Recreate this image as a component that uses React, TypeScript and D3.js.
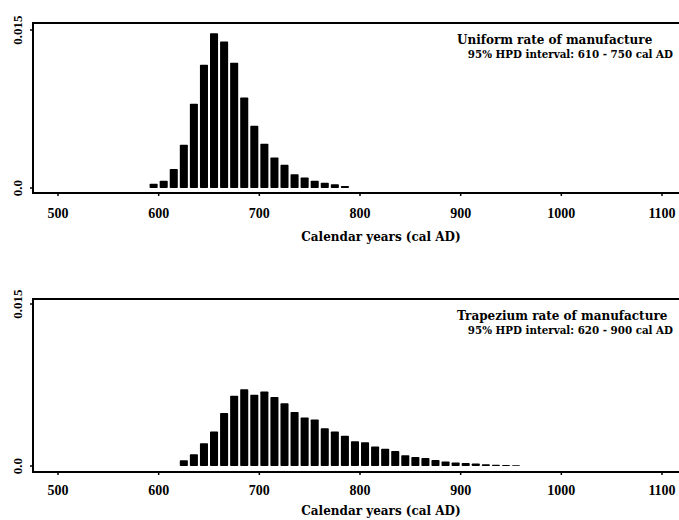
import React from "react";
import * as d3 from "d3";

// bin centres (cal AD) and posterior densities
const uniformYears = [595, 605, 615, 625, 635, 645, 655, 665, 675, 685, 695, 705, 715, 725, 735, 745, 755, 765, 775, 785];
const uniformValues = [0.0004, 0.0007, 0.0018, 0.0041, 0.008, 0.0117, 0.0147, 0.0139, 0.0119, 0.0086, 0.0059, 0.0042, 0.0029, 0.0022, 0.0013, 0.001, 0.0007, 0.0005, 0.00035, 0.0002];

const trapYears = [625, 635, 645, 655, 665, 675, 685, 695, 705, 715, 725, 735, 745, 755, 765, 775, 785, 795, 805, 815, 825, 835, 845, 855, 865, 875, 885, 895, 905, 915, 925, 935, 945, 955];
const trapValues = [0.00053, 0.00108, 0.0021, 0.0032, 0.0049, 0.0065, 0.0071, 0.0066, 0.0069, 0.0064, 0.0058, 0.005, 0.0045, 0.0043, 0.0035, 0.0032, 0.0028, 0.0023, 0.0022, 0.0018, 0.0016, 0.0014, 0.001, 0.00084, 0.00074, 0.00056, 0.00042, 0.00032, 0.00028, 0.00023, 0.00016, 0.00012, 0.00009, 0.00006];

const xTicks = [500, 600, 700, 800, 900, 1000, 1100];
const yTicks = [0, 0.015];
const yTickLabels = ["0.0", "0.015"];
const xTitle = "Calendar years (cal AD)";

const panels = [
  { years: uniformYears, values: uniformValues, title: "Uniform rate of manufacture", hpd: "95% HPD interval: 610 - 750 cal AD", top: 23, bottom: 193, y0: 188, y1: 30, tickY: 218, titleY: 241 },
  { years: trapYears, values: trapValues, title: "Trapezium rate of manufacture", hpd: "95% HPD interval: 620 - 900 cal AD", top: 299, bottom: 472, y0: 466, y1: 304, tickY: 495, titleY: 515 },
];

const font = "'Liberation Serif', 'DejaVu Serif', serif";
const wide = "'DejaVu Serif', serif";

const x = d3.scaleLinear().domain([500, 1100]).range([58, 662]);

const Panel = ({ p }: { p: (typeof panels)[number] }) => {
  const y = d3.scaleLinear().domain([0, 0.015]).range([p.y0, p.y1]);
  const left = 33;
  const right = 690;
  return (
    <g>
      {p.years.map((yr, i) => (
        <rect
          key={yr}
          x={x(yr - 4)}
          width={x(yr + 4) - x(yr - 4)}
          y={y(p.values[i])}
          height={y(0) - y(p.values[i])}
          fill="#000"
          rx={0.8}
        />
      ))}
      {/* frame: left, top, bottom (right edge runs off the page) */}
      <path d={`M${right},${p.top}H${left}V${p.bottom}H${right}`} fill="none" stroke="#000" strokeWidth={2} />
      {yTicks.map((t, i) => (
        <g key={t}>
          <line x1={left - 3} x2={left} y1={y(t)} y2={y(t)} stroke="#000" strokeWidth={1.5} />
          <text
            transform={`translate(22,${y(t)}) rotate(-90)`}
            textAnchor="middle"
            fontSize={13}
            fontWeight="bold"
            fontFamily={font}
          >
            {yTickLabels[i]}
          </text>
        </g>
      ))}
      {xTicks.map((t) => (
        <g key={t}>
          <line x1={x(t)} x2={x(t)} y1={p.bottom} y2={p.bottom + 3} stroke="#000" strokeWidth={1.5} />
          <text x={x(t)} y={p.tickY} textAnchor="middle" fontSize={14} fontWeight="bold" fontFamily={font}>
            {t}
          </text>
        </g>
      ))}
      <text x={381} y={p.titleY} textAnchor="middle" fontSize={12} fontWeight="bold" fontFamily={wide}>
        {xTitle}
      </text>
      <text x={457} y={p.top + 21} fontSize={12} fontWeight="bold" fontFamily={wide}>
        {p.title}
      </text>
      <text x={673} y={p.top + 35} textAnchor="end" fontSize={10.3} fontWeight="bold" fontFamily={wide}>
        {p.hpd}
      </text>
    </g>
  );
};

export default function App() {
  return (
    <svg width={679} height={520} style={{ position: "absolute", left: 0, top: 0, background: "#fff" }}>
      {panels.map((p) => (
        <Panel key={p.title} p={p} />
      ))}
    </svg>
  );
}
